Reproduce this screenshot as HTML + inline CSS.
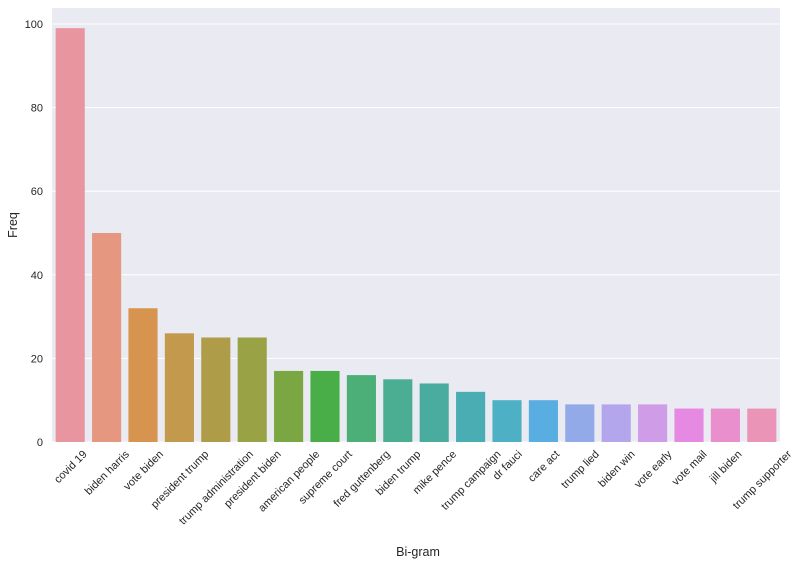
<!DOCTYPE html>
<html><head><meta charset="utf-8"><style>
html,body{margin:0;padding:0;background:#fff;}
svg{display:block;font-family:"Liberation Sans","DejaVu Sans",sans-serif;}
</style></head><body>
<svg id="chart" width="804" height="566">
<rect x="52" y="8" width="728" height="434" fill="#eaeaf2"/>
<g id="grid"></g><g id="bars"></g><g id="yticks"></g><g id="xticks"></g>
<text x="418" y="556" text-anchor="middle" font-size="12.5" fill="#262626">Bi-gram</text>
<text transform="translate(17,225) rotate(-90)" text-anchor="middle" font-size="12.5" fill="#262626">Freq</text>
</svg>
<script>
const categories=["covid 19","biden harris","vote biden","president trump","trump administration","president biden","american people","supreme court","fred guttenberg","biden trump","mike pence","trump campaign","dr fauci","care act","trump lied","biden win","vote early","vote mail","jill biden","trump supporter"];
const values=[99,50,32,26,25,25,17,17,16,15,14,12,10,10,9,9,9,8,8,8];
const colors=["#e9959f","#e5977f","#d7944f","#c39a4d","#ae9c48","#99a244","#7aa742","#4aae48","#4caf78","#4bae93","#4aac9f","#4aadb3","#4db0c4","#58aee0","#93aae8","#b3a6ec","#cf9ce8","#e589e2","#ea8fce","#ea94b8"];
const yTicks=[0,20,40,60,80,100];
const NS="http://www.w3.org/2000/svg";
const L=52,R=780,B=442;
const yScale=v=>B-v*(442-24)/100;
const step=(R-L)/categories.length;
const xCenter=i=>L+step*(i+0.5);
function mk(t,a,p){const e=document.createElementNS(NS,t);for(const k in a)e.setAttribute(k,a[k]);p.appendChild(e);return e;}
const grid=document.getElementById('grid'),yt=document.getElementById('yticks');
yTicks.forEach(v=>{
 const y=yScale(v);
 const g=mk('line',{x1:L,x2:R,y1:y,y2:y,stroke:'#fff','stroke-width':1},grid);
 
 
 const t=mk('text',{x:L-9,y:y+4,'text-anchor':'end','font-size':11,fill:'#262626'},yt);
 t.textContent=v;
 
 
});
const bars=document.getElementById('bars'),xt=document.getElementById('xticks');
categories.forEach((c,i)=>{
 const w=step*0.8,x=xCenter(i)-w/2,y=yScale(values[i]);
 const r=mk('rect',{x:x,y:y,width:w,height:B-y,fill:colors[i]},bars);
 
 
 const t=mk('text',{'text-anchor':'middle','font-size':11,fill:'#262626'},xt);
 t.textContent=c;
 
 
 const len=t.getComputedTextLength();
 const cy=B+6+len*0.707/2+4;
 t.setAttribute('x',0);t.setAttribute('y',4);
 t.setAttribute('transform','translate('+xCenter(i)+','+cy+') rotate(-45)');
});
</script>
</body></html>
